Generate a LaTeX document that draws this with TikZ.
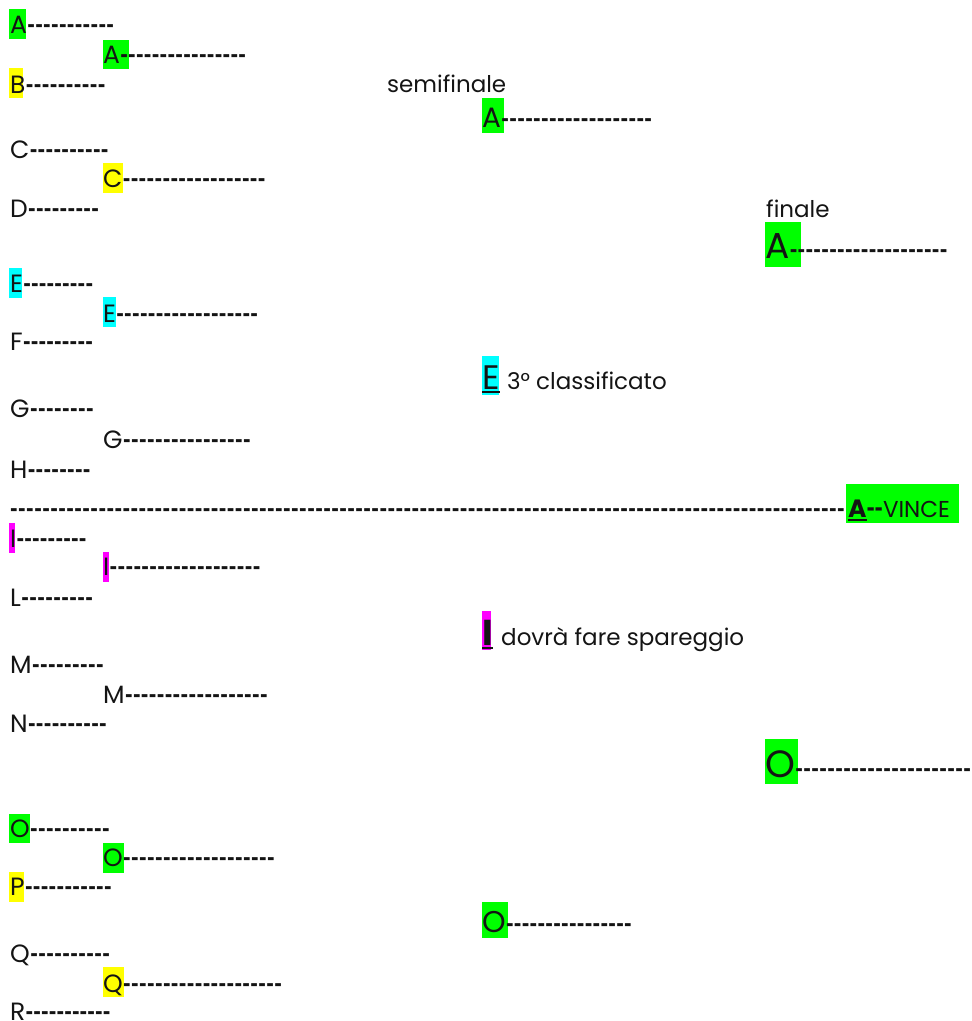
\documentclass[tikz,border=0pt]{standalone}
\usepackage{fontspec}
\setmainfont{Poppins}
\newcount\hyc
\newcommand\hy[2]{\hyc=#1\relax\loop\ifnum\hyc>0 \makebox[\dimexpr #2pt/#1\relax]{\scalebox{0.62}[1]{\bfseries -}}\advance\hyc by -1\relax\repeat}
\newcommand\myul[1]{\setbox0\hbox{#1}\rlap{\rule[-4pt]{\wd0}{2.5pt}}\box0}
\definecolor{hgreen}{RGB}{0,255,0}
\definecolor{hyellow}{RGB}{255,255,0}
\definecolor{hcyan}{RGB}{0,255,255}
\definecolor{hmag}{RGB}{255,0,255}
\definecolor{ink}{RGB}{20,20,20}
\tikzset{
  txt/.style={anchor=base west, inner sep=0pt, text=ink, font=\fontsize{23}{26}\selectfont},
  let/.style={txt, font=\fontsize{25}{28}\selectfont},
  dsh/.style={txt, font=\fontsize{21}{26}\selectfont},
}
\newcommand\entry[6]{%
  \node[let] (#1) at (#2,#3) {#4};
  \node[dsh] (#1d) at (#1.base east) {\hy{#5}{#6}};
}
\begin{document}
\begin{tikzpicture}[x=1pt,y=-1pt]
\useasboundingbox (0,0) rectangle (972,1021);
% highlights
\fill[hgreen]  (9,9) rectangle (26,39);
\fill[hgreen]  (103,40) rectangle (129,69);
\fill[hyellow] (9,68) rectangle (23,98);
\fill[hyellow] (103,163) rectangle (123,193);
\fill[hcyan]   (9,268) rectangle (22,298);
\fill[hcyan]   (103,297) rectangle (116,327);
\fill[hmag]    (9,523) rectangle (15,553);
\fill[hmag]    (103,552) rectangle (109,582);
\fill[hgreen]  (9,814) rectangle (30,843);
\fill[hgreen]  (103,843) rectangle (124,873);
\fill[hyellow] (9,872) rectangle (24,902);
\fill[hyellow] (103,967) rectangle (124,997);
\fill[hgreen]  (482,98) rectangle (504,133);
\fill[hgreen]  (765,222) rectangle (801,267);
\fill[hcyan]   (482,356) rectangle (499,395);
\fill[hmag]    (482,611) rectangle (491,650);
\fill[hgreen]  (846,484) rectangle (959,523);
\fill[hgreen]  (765,739) rectangle (798,784);
\fill[hgreen]  (482,902) rectangle (508,938);
% left column
\entry{a1}{10}{33}{A}{11}{87}
\entry{a2}{103}{63}{A}{16}{126}
\entry{b1}{10}{93}{B}{10}{80}
\entry{c1}{10}{158}{C}{10}{79}
\entry{c2}{103}{187}{C}{18}{143}
\entry{d1}{10}{217}{D}{9}{71}
\entry{e1}{10}{292}{E}{9}{70}
\entry{e2}{103}{322}{E}{18}{142}
\entry{f1}{10}{350}{F}{9}{70}
\entry{g1}{10}{417}{G}{8}{64}
\entry{g2}{103}{448}{G}{16}{128}
\entry{h1}{10}{478}{H}{8}{63}
\entry{i1}{10}{547}{I}{9}{70}
\entry{i2}{103}{575}{I}{19}{151}
\entry{l1}{10}{606}{L}{9}{72}
\entry{m1}{10}{673}{M}{9}{72}
\entry{m2}{103}{703}{M}{18}{143}
\entry{n1}{10}{732}{N}{10}{79}
\entry{o1}{10}{837}{O}{10}{80}
\entry{o2}{103}{866}{O}{19}{152}
\entry{p1}{10}{895}{P}{11}{87}
\entry{q1}{10}{962}{Q}{10}{80}
\entry{q2}{103}{992}{Q}{20}{159}
\entry{r1}{10}{1020}{R}{11}{85}
% long line
\node[dsh] (long) at (10,517) {\hy{104}{835}};
\node[let] (win) at (848,517) {\myul{\textbf{A}}};
\node[txt] (vince) at (win.base east) {\hy{2}{16}VINCE};
% semifinal
\node[txt] (semi) at (387,92) {semifinale};
\node[txt, font=\fontsize{28}{30}\selectfont] (sA) at (482,127) {A};
\node[dsh] (sAd) at (sA.base east) {\hy{19}{151}};
\node[txt, font=\fontsize{34}{36}\selectfont] (tE) at (482,389) {\myul{E}};
\node[txt] (tEt) at ([xshift=7pt]tE.base east) {3° classificato};
\node[txt, font=\fontsize{36}{36}\selectfont\bfseries] (tI) at (482,645) {\myul{I}};
\node[txt] (tIt) at ([xshift=8pt]tI.base east) {dovrà fare spareggio};
\node[txt, font=\fontsize{30}{32}\selectfont] (sO) at (482,932) {O};
\node[dsh] (sOd) at (sO.base east) {\hy{16}{126}};
% final
\node[txt] (fin) at (766,217) {finale};
\node[txt, font=\fontsize{36}{38}\selectfont] (fA) at (765,258) {A};
\node[dsh] (fAd) at (fA.base east) {\hy{20}{158}};
\node[txt, font=\fontsize{38}{40}\selectfont] (fO) at (765,777) {O};
\node[dsh] (fOd) at (fO.base east) {\hy{22}{176}};
\end{tikzpicture}
\end{document}
